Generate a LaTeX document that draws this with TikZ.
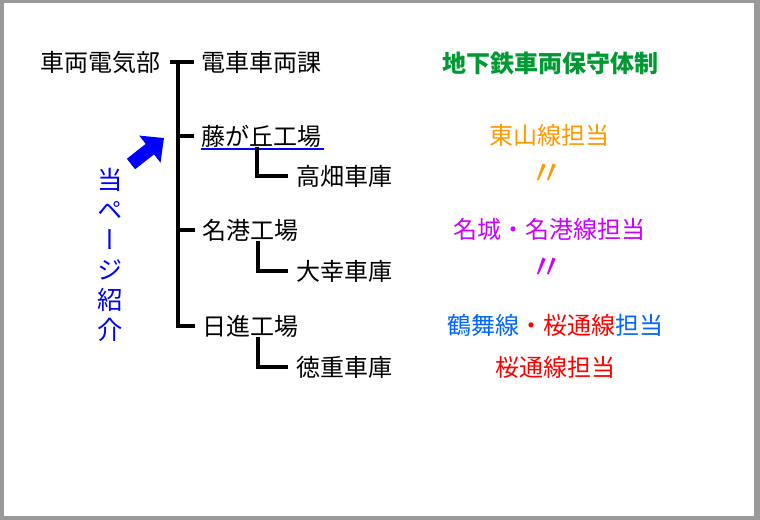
\documentclass[tikz,border=0pt]{standalone}
\usepackage{fontspec}
\setmainfont{Noto Sans CJK JP}
\newfontfamily\vertfont[RawFeature=+vert]{Noto Sans CJK JP}
\usetikzlibrary{arrows.meta}

\begin{document}
\begin{tikzpicture}[x=0.75pt,y=-0.75pt,
    lbl/.style={inner sep=0pt, font=\fontsize{18}{22}\selectfont},
    head/.style={lbl, font=\fontsize{18}{22}\selectfont\bfseries},
    ditto/.style={lbl, font=\fontsize{26}{26}\selectfont},
    tree/.style={line width=3pt},
    tick/.style={tree, shorten >=5.5pt}]
  % Color definitions
  \definecolor{frame}{RGB}{153,153,153}   % grey border
  \definecolor{hoshu}{RGB}{0,153,51}      % green heading
  \definecolor{higashi}{RGB}{255,153,0}   % orange
  \definecolor{meijo}{RGB}{204,0,255}     % purple
  \definecolor{tsurumai}{RGB}{0,102,255}  % light blue
  \definecolor{sakura}{RGB}{255,0,0}      % red
  \definecolor{intro}{RGB}{0,0,255}       % blue

  % Helper macro  {factory node}{depot node}
  \newcommand{\elbow}[2]{%
    \draw[tick, shorten >=6pt] ([xshift=42pt]#1.south west) |- (#2.west);}

  % Frame
  \fill[frame] (0,0) rectangle (760,520);
  \fill[white] (4,3) rectangle (754,516);

  % Tree (left)
  \coordinate (spine) at (178,0);
  \node[lbl, anchor=east] (dept) at (161,62) {車両電気部};
  \node[lbl, anchor=west] (ka) at (201,62) {電車車両課};
  \node[lbl, anchor=west] (fuji) at (201,136) {藤が丘工場};
  \node[lbl, anchor=west] (takabata) at (296,176) {高畑車庫};
  \node[lbl, anchor=west] (meiko) at (202,230) {名港工場};
  \node[lbl, anchor=west] (daiko) at (296,271) {大幸車庫};
  \node[lbl, anchor=west] (nisshin) at (202,326) {日進工場};
  \node[lbl, anchor=west] (tokushige) at (296,367) {徳重車庫};

  \draw[tick, shorten <=6.75pt] (dept.east) -- (ka.west);
  \draw[tick] (ka.west -| spine) -- (nisshin.west -| spine) -- (nisshin.west);
  \draw[tick] (fuji.west -| spine) -- (fuji.west);
  \draw[tick] (meiko.west -| spine) -- (meiko.west);
  \draw[intro, line width=1.5pt] ([yshift=-1pt]fuji.south west) -- ([yshift=-1pt,xshift=1.5pt]fuji.south east);
  \elbow{fuji}{takabata}
  \elbow{meiko}{daiko}
  \elbow{nisshin}{tokushige}

  % Page pointer
  \node[inner sep=0pt, align=center, text=intro,
        font=\vertfont\fontsize{19}{22.5}\selectfont] (page) at (110,255)
        {当\\ペ\\ー\\ジ\\紹\\介};
  \coordinate (arrtail) at (131,164);
  \coordinate (arrtip) at (164,138);
  \draw[intro, line width=10pt, -{Triangle[length=13.5pt,width=25pt]}] (arrtail) -- (arrtip);

  % Maintenance lines (right)
  \node[head, text=hoshu] (title) at (550,63) {地下鉄車両保守体制};
  \node[lbl, text=higashi] (east) at (549,135) {東山線担当};
  \node[ditto, text=higashi] (same1) at (547,175) {〃};
  \node[lbl, text=meijo] (meijo) at (549,229) {名城・名港線担当};
  \node[ditto, text=meijo] (same2) at (547,269) {〃};
  \node[lbl, text=tsurumai] (tsuru) at (555,325) {鶴舞線\textcolor{sakura}{・桜通線}担当};
  \node[lbl, text=sakura] (sakura) at (555,367) {桜通線担当};
\end{tikzpicture}
\end{document}
